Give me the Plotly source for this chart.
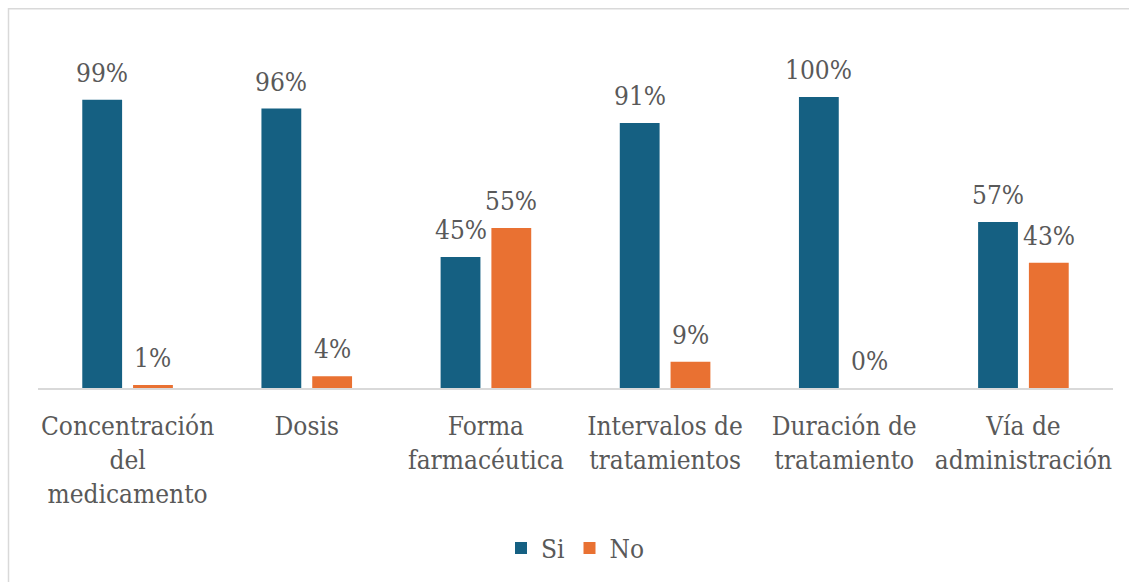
import plotly.graph_objects as go

categories = ["Concentración<br>del<br>medicamento", "Dosis", "Forma<br>farmacéutica",
              "Intervalos de<br>tratamientos", "Duración de<br>tratamiento", "Vía de<br>administración"]
si_values = [0.99, 0.96, 0.45, 0.91, 1.00, 0.57]
no_values = [0.01, 0.04, 0.55, 0.09, 0.00, 0.43]
series_names = ["Si", "No"]
colors = ["#156082", "#E97132"]

W, H = 1129, 582
L, R, T, B = 38, 16, 68, 193
plot_h = H - T - B
zero_px = H - B
FONT = "DejaVu Serif Condensed"
FS = 26
TXT = "#595959"

fig = go.Figure()
for name, vals, col in zip(series_names, [si_values, no_values], colors):
    fig.add_bar(x=categories, y=vals, name=name, marker_color=col, marker_line_width=0)

slot = (1 - 0.433) * (W - L - R) / len(categories) / 2
for vals, sgn in [(si_values, -1), (no_values, 1)]:
    for c, v in zip(categories, vals):
        fig.add_annotation(x=c, y=v, text=f"{round(v*100)}%", showarrow=False,
                           xshift=sgn * slot / 2, yanchor="bottom", yshift=10,
                           font=dict(family=FONT, size=FS, color=TXT))

ymax = plot_h / 292
fig.add_shape(type="rect", xref="paper", yref="paper",
              x0=(8.5 - L) / (W - L - R), x1=1.3,
              y0=-2, y1=(zero_px - 8.5) / plot_h,
              line=dict(color="#d9d9d9", width=1.5), fillcolor="rgba(0,0,0,0)", layer="below")

fig.update_layout(
    width=W, height=H, margin=dict(l=L, r=R, t=T, b=B),
    paper_bgcolor="white", plot_bgcolor="white",
    barmode="group", bargap=0.433, bargroupgap=0.216,
    font=dict(family=FONT, size=FS, color=TXT),
    showlegend=True,
    legend=dict(orientation="h", x=0.5, xanchor="center", y=(zero_px - 548) / plot_h,
                yanchor="middle", font=dict(family=FONT, size=FS, color=TXT)),
    xaxis=dict(showline=True, linecolor="#d9d9d9", linewidth=1.5, showgrid=False,
               tickfont=dict(family=FONT, size=FS, color=TXT), tickangle=0,
               ticks="outside", ticklen=14, tickcolor="rgba(0,0,0,0)", automargin=False),
    yaxis=dict(visible=False, range=[0, ymax], showgrid=False, zeroline=False),
)

fig.write_html("out.html")
